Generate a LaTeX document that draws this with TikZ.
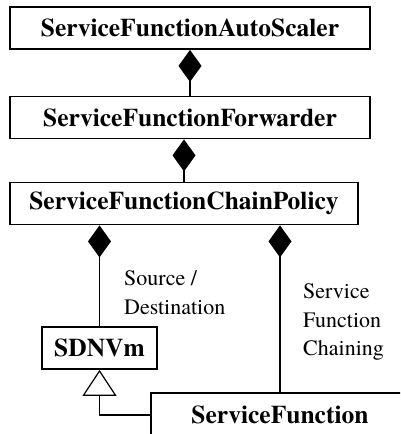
\documentclass[tikz,border=0pt]{standalone}
\usepackage{fontspec}
\setmainfont{TeX Gyre Termes}
\usepackage{tikz}
\usetikzlibrary{arrows.meta,positioning}

\begin{document}
\begin{tikzpicture}[
    x=1pt, y=-1pt,
    cls/.style={rectangle, draw, line width=1.8pt, minimum height=42pt, inner sep=0pt, font=\fontsize{25.5}{30}\selectfont\bfseries},
    lbl/.style={align=left, anchor=north west, inner sep=0pt, font=\fontsize{22}{28.5}\selectfont},
    comp/.style={{Diamond[length=32pt, width=23pt]}-, line width=1.2pt},
    inh/.style={-{Triangle[open, length=26pt, width=34pt]}, line width=1.2pt}
]
    \useasboundingbox (0,0) rectangle (400,434);
    \clip (0,0) rectangle (400,434);

    % Classes
    \node[cls, minimum width=360pt] (scaler) at (190,28) {ServiceFunctionAutoScaler};
    \node[cls, minimum width=360pt] (fwd) at (190,117.5) {ServiceFunctionForwarder};
    \node[cls, minimum width=348pt] (policy) at (184,203.5) {ServiceFunctionChainPolicy};
    \node[cls, minimum width=115pt] (vm) at (99.5,348) {SDNVm};
    \node[cls, minimum width=258pt, minimum height=44pt] (sf) at (280,415) {ServiceFunction};

    % Composition
    \draw[comp] (scaler) -- (fwd);
    \draw[comp] (fwd.south -| policy.north) -- (policy);
    \draw[comp] (vm.north |- policy.south) -- (vm);
    \draw[comp] (sf.north |- policy.south) -- (sf);

    % Inheritance
    \draw[inh] (sf.west) -| (vm.south);

    % Role labels
    \node[lbl] (srclbl) at (124,270.5) {Source /\\Destination};
    \node[lbl] (chainlbl) at (303,283.5) {Service\\Function\\Chaining};

\end{tikzpicture}
\end{document}
